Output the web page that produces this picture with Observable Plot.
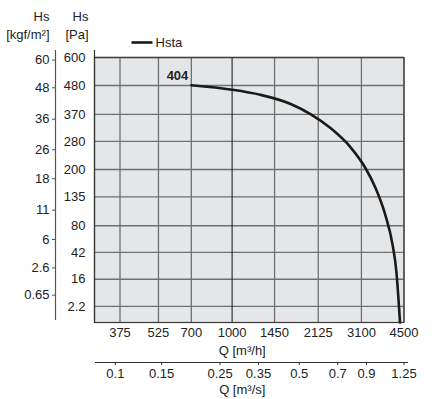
<!DOCTYPE html>
<html>
<head>
<meta charset="utf-8">
<script src="https://cdn.jsdelivr.net/npm/d3@7"></script>
<script src="https://cdn.jsdelivr.net/npm/@observablehq/plot@0.6"></script>
<style>
  html, body { margin: 0; padding: 0; background: #fff; }
</style>
</head>
<body>
<div id="chart"></div>
<script>
// Pressure ticks [Pa] (left inner axis)
const paTicks = [2.2, 16, 42, 80, 135, 200, 280, 370, 480, 600];
// Pressure ticks [kgf/m²] (left outer axis)
const kgfTicks = [0.65, 2.6, 6, 11, 18, 26, 36, 48, 60];
// Flow ticks [m³/h]
const qhTicks = [375, 525, 700, 1000, 1450, 2125, 3100, 4500];
// Flow ticks [m³/s]
const qsTicks = [0.1, 0.15, 0.25, 0.35, 0.5, 0.7, 0.9, 1.25];
// Curve Hsta (fan 404)
const curveQ  = [700, 1000, 1280, 1670, 1985, 2365, 2815, 3210, 3505, 3825, 4070, 4210, 4305, 4345];
const curvePa = [481, 463, 443, 408, 371, 323, 263, 204, 155, 98, 52, 22, 2.4, 0];
const seriesName = "Hsta";
const modelLabel = "404";

const G = 9.80665;
const curve = curveQ.map((q, i) => ({Q: q, Pa: curvePa[i]}));
const kgfLabel = d => { const k = kgfTicks.find(k => Math.abs(k * G - d) < 1e-6); return k === undefined ? "" : String(k); };
const qsLabel = d => { const s = qsTicks.find(s => Math.abs(s * 3600 - d) < 1e-6); return s === undefined ? "" : String(s); };

const font = "'Liberation Sans', Arial, Helvetica, sans-serif";
const ink = "#222";

const chart = Plot.plot({
  width: 446,
  height: 399,
  marginTop: 57,
  marginLeft: 94,
  marginRight: 42.5,
  marginBottom: 77,
  style: {fontFamily: font, fontSize: "13px", color: ink, background: "#fff"},
  x: {type: "log", domain: [300, 4500]},
  y: {type: "sqrt", domain: [0, 600]},
  marks: [
    Plot.frame({fill: "#e5e6e8", stroke: null}),
    Plot.gridY({ticks: paTicks, stroke: "#707070", strokeOpacity: 1, strokeWidth: 1.3}),
    Plot.gridX({ticks: qhTicks.filter(d => d !== 1000), stroke: "#707070", strokeOpacity: 1, strokeWidth: 1.3}),
    Plot.gridX({ticks: [1000], stroke: "#111", strokeOpacity: 1, strokeWidth: 1}),
    Plot.frame({stroke: "#3a3a3a", strokeWidth: 1.2}),
    // Pa axis line extended above the frame
    Plot.ruleX([300], {stroke: "#333", strokeWidth: 1.2, insetTop: -7}),
    // kgf axis line
    Plot.ruleX([300], {stroke: "#555", strokeWidth: 1.2, dx: -39, insetTop: -7, insetBottom: 2}),
    Plot.axisY({ticks: paTicks, anchor: "left", tickSize: 0, tickPadding: 9, tickFormat: d => String(d), label: null, fill: ink}),
    Plot.axisY({ticks: kgfTicks.map(k => k * G), anchor: "left", dx: -39, tickSize: 3, tickPadding: 3, tickFormat: kgfLabel, label: null, stroke: "#555", fill: ink}),
    Plot.axisX({ticks: qhTicks, anchor: "bottom", tickSize: 0, tickPadding: 5, tickFormat: d => String(d), label: null, fill: ink}),
    // m³/s axis
    Plot.ruleY([0], {dy: 40, insetLeft: 1, insetRight: -4.5, stroke: "#333", strokeWidth: 1}),
    Plot.axisX({ticks: qsTicks.map(s => s * 3600), anchor: "bottom", dy: 40, tickSize: 3, tickPadding: 3, tickFormat: qsLabel, label: null, stroke: "#333", fill: ink}),
    Plot.text(["Q [m³/h]"], {text: d => d, frameAnchor: "bottom", dx: -7, dy: 23, lineAnchor: "top", fill: ink}),
    Plot.text(["Q [m³/s]"], {text: d => d, frameAnchor: "bottom", dx: -7, dy: 62, lineAnchor: "top", fill: ink}),
    // axis titles
    Plot.text(["Hs\n[kgf/m²]"], {text: d => d, frameAnchor: "top-left", textAnchor: "end", lineAnchor: "top", dx: -45, dy: -49, lineHeight: 1.38, fill: ink}),
    Plot.text(["Hs\n[Pa]"], {text: d => d, frameAnchor: "top-left", textAnchor: "end", lineAnchor: "top", dx: -6, dy: -49, lineHeight: 1.38, fill: ink}),
    // legend text
    Plot.text([seriesName], {text: d => d, frameAnchor: "top-left", textAnchor: "start", lineAnchor: "middle", dx: 61, dy: -15, fill: ink}),
    // curve
    Plot.line(curve, {x: "Q", y: "Pa", curve: "monotone-x", stroke: "#1a1a1a", strokeWidth: 2.6}),
    Plot.text(curve.slice(0, 1), {x: "Q", y: "Pa", text: () => modelLabel, textAnchor: "end", dx: -3, dy: -9, fontWeight: "bold", fill: ink})
  ]
});

// legend swatch
d3.select(chart).append("line")
  .attr("x1", 131.5).attr("x2", 152.5)
  .attr("y1", 42.5).attr("y2", 42.5)
  .attr("stroke", "#1a1a1a").attr("stroke-width", 2.6);

document.getElementById("chart").appendChild(chart);
</script>
</body>
</html>
